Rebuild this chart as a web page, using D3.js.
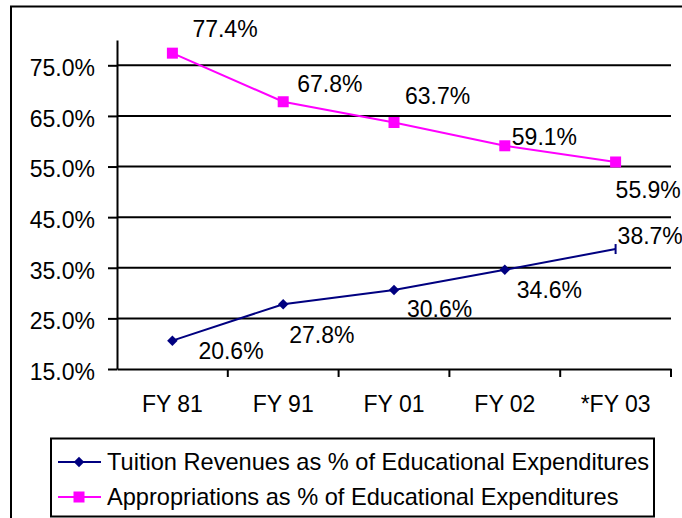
<!DOCTYPE html>
<html lang="en">
<head>
<meta charset="utf-8">
<script src="https://d3js.org/d3.v7.min.js"></script>
<style>
    body { margin: 0; background: #fff; }
    text { font-family: "Liberation Sans", Arial, sans-serif; fill: #000; }
</style>
</head>
<body>
<svg width="682" height="518"></svg>
<script>
// data
var categories = ["FY 81", "FY 91", "FY 01", "FY 02", "*FY 03"];
var tuition = [20.6, 27.8, 30.6, 34.6, 38.7];
var approp = [77.4, 67.8, 63.7, 59.1, 55.9];
var yTicks = [15, 25, 35, 45, 55, 65, 75];
var seriesNames = ["Tuition Revenues as % of Educational Expenditures",
                   "Appropriations as % of Educational Expenditures"];

// hand placed label offsets (text left, baseline) from each point
var tuitionLabelOff = [[26, 18], [6, 39], [13, 27], [12, 28], [2, -5]];
var appropLabelOff = [[20, -16], [14, -10], [11, -19], [7, -1], [0, 36]];

var svg = d3.select("svg");
var fs = 23;

// outer frame (right and bottom fall outside the picture)
svg.append("rect")
    .attr("x", 11).attr("y", 6.5)
    .attr("width", 700).attr("height", 540)
    .attr("fill", "none").attr("stroke", "#000").attr("stroke-width", 2);

var x = d3.scaleBand().domain(categories).range([117, 671]).padding(0);
var y = d3.scaleLinear().domain([15, 80]).range([369, 40]);

// gridlines
svg.append("g").selectAll("line")
    .data(yTicks.filter(function(d) { return d > 15; }))
    .enter().append("line")
    .attr("x1", 117).attr("x2", 671)
    .attr("y1", function(d) { return y(d); })
    .attr("y2", function(d) { return y(d); })
    .attr("stroke", "#000").attr("stroke-width", 2);

// y axis
var yAxis = svg.append("g")
    .attr("transform", "translate(117,0)")
    .call(d3.axisLeft(y).tickValues(yTicks).tickSizeInner(9).tickSizeOuter(0)
        .tickFormat(function(d) { return d.toFixed(1) + "%"; }));
yAxis.select(".domain").attr("stroke", "#000").attr("stroke-width", 2);
yAxis.selectAll(".tick line").attr("stroke", "#000").attr("stroke-width", 2);
yAxis.selectAll(".tick text")
    .attr("x", -22).attr("dy", "0.45em")
    .attr("font-size", fs).attr("font-family", null);

// x axis
var xAxis = svg.append("g")
    .attr("transform", "translate(0,369)")
    .call(d3.axisBottom(x).tickSize(0).tickPadding(27));
xAxis.select(".domain").attr("stroke", "#000").attr("stroke-width", 2);
xAxis.selectAll(".tick text").attr("font-size", fs).attr("font-family", null);
xAxis.selectAll(".xt")
    .data(categories)
    .enter().append("line")
    .attr("class", "xt")
    .attr("x1", function(d) { return x(d) + x.step(); })
    .attr("x2", function(d) { return x(d) + x.step(); })
    .attr("y1", 0).attr("y2", 8)
    .attr("stroke", "#000").attr("stroke-width", 2);

function cx(i) { return x(categories[i]) + x.bandwidth() / 2; }

var line = d3.line()
    .x(function(d, i) { return cx(i); })
    .y(function(d) { return y(d); });

// appropriations series
svg.append("path").datum(approp)
    .attr("d", line).attr("fill", "none")
    .attr("stroke", "#ff00ff").attr("stroke-width", 2);
svg.selectAll(".sq")
    .data(approp).enter().append("rect")
    .attr("class", "sq")
    .attr("x", function(d, i) { return cx(i) - 5.5; })
    .attr("y", function(d) { return y(d) - 5.5; })
    .attr("width", 11).attr("height", 11)
    .attr("fill", "#ff00ff");

// tuition series
svg.append("path").datum(tuition)
    .attr("d", line).attr("fill", "none")
    .attr("stroke", "#000080").attr("stroke-width", 2);
var diamond = d3.symbol().type(d3.symbolDiamond2).size(70);
svg.selectAll(".dm")
    .data(tuition.slice(0, tuition.length - 1)).enter().append("path")
    .attr("class", "dm")
    .attr("d", diamond)
    .attr("transform", function(d, i) { return "translate(" + cx(i) + "," + y(d) + ")"; })
    .attr("fill", "#000080");
// last tuition point shows only as a short bar
var last = tuition.length - 1;
svg.append("line")
    .attr("x1", cx(last)).attr("x2", cx(last))
    .attr("y1", y(tuition[last]) - 5).attr("y2", y(tuition[last]) + 5)
    .attr("stroke", "#000080").attr("stroke-width", 2);

// data labels
function labels(vals, offs) {
    svg.append("g").selectAll("text")
        .data(vals).enter().append("text")
        .attr("x", function(d, i) { return cx(i) + offs[i][0]; })
        .attr("y", function(d, i) { return y(d) + offs[i][1]; })
        .attr("font-size", fs)
        .text(function(d) { return d.toFixed(1) + "%"; });
}
labels(approp, appropLabelOff);
labels(tuition, tuitionLabelOff);

// legend
var lg = svg.append("g");
lg.append("rect")
    .attr("x", 51).attr("y", 438.5)
    .attr("width", 603).attr("height", 78)
    .attr("fill", "#fff").attr("stroke", "#000").attr("stroke-width", 2);
var rows = [
    { name: seriesNames[0], color: "#000080", mark: "diamond" },
    { name: seriesNames[1], color: "#ff00ff", mark: "square" }
];
rows.forEach(function(r, i) {
    var ry = 462 + i * 35;
    lg.append("line")
        .attr("x1", 58).attr("x2", 101)
        .attr("y1", ry).attr("y2", ry)
        .attr("stroke", r.color).attr("stroke-width", 2);
    if (r.mark === "diamond") {
        lg.append("path")
            .attr("d", diamond)
            .attr("transform", "translate(79," + ry + ")")
            .attr("fill", r.color);
    } else {
        lg.append("rect")
            .attr("x", 73.5).attr("y", ry - 5.5)
            .attr("width", 11).attr("height", 11)
            .attr("fill", r.color);
    }
    lg.append("text")
        .attr("x", 107).attr("y", ry + 8)
        .attr("font-size", 23.6)
        .text(r.name);
});
</script>
</body>
</html>
